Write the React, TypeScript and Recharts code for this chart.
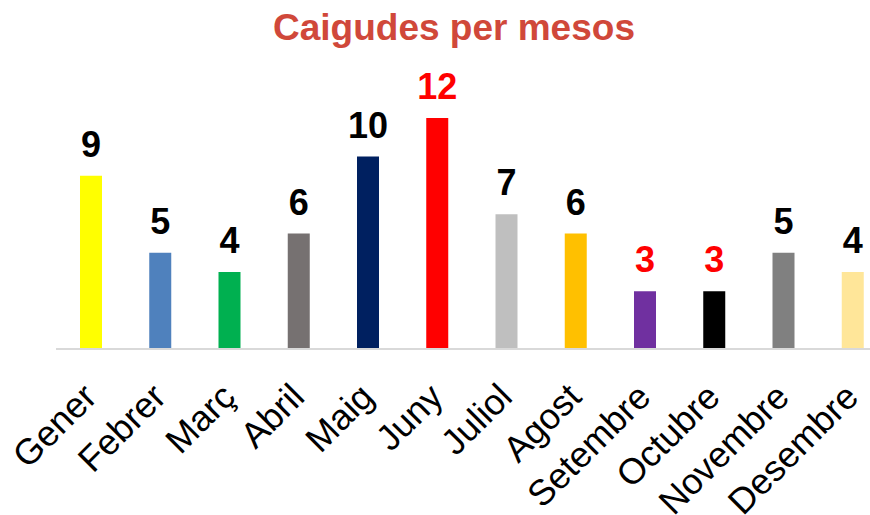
import { Bar, BarChart, Cell, LabelList, XAxis, YAxis } from "recharts";

const months: string[] = [
  "Gener",
  "Febrer",
  "Març",
  "Abril",
  "Maig",
  "Juny",
  "Juliol",
  "Agost",
  "Setembre",
  "Octubre",
  "Novembre",
  "Desembre",
];

const falls: number[] = [9, 5, 4, 6, 10, 12, 7, 6, 3, 3, 5, 4];

const barColors: string[] = [
  "#FFFF00",
  "#4F81BD",
  "#00B050",
  "#767171",
  "#002060",
  "#FF0000",
  "#BFBFBF",
  "#FFC000",
  "#7030A0",
  "#000000",
  "#808080",
  "#FFE699",
];

const labelColors: string[] = [
  "#000000",
  "#000000",
  "#000000",
  "#000000",
  "#000000",
  "#FF0000",
  "#000000",
  "#000000",
  "#FF0000",
  "#FF0000",
  "#000000",
  "#000000",
];

const font = "'Liberation Sans', Arial, sans-serif";

const data = months.map((name: string, i: number) => ({
  name,
  value: falls[i],
}));

function MonthTick(props: any) {
  const { x, y, payload } = props;
  return (
    <g transform={`translate(${x + 8},${y + 50})`}>
      <text
        x={0}
        y={0}
        transform="rotate(-45)"
        textAnchor="end"
        fontFamily={font}
        fontSize={36}
        fill="#000000"
      >
        {payload.value}
      </text>
    </g>
  );
}

function ValueLabel(props: any) {
  const { x, y, width, value, index } = props;
  return (
    <text
      x={x + width / 2}
      y={y - 19}
      textAnchor="middle"
      fontFamily={font}
      fontSize={36}
      fontWeight={700}
      fill={labelColors[index]}
    >
      {value}
    </text>
  );
}

export default function App() {
  return (
    <div
      style={{
        position: "absolute",
        left: 0,
        top: 0,
        width: 870,
        height: 515,
        overflow: "hidden",
        background: "#ffffff",
      }}
    >
      <div
        style={{
          position: "absolute",
          left: 0,
          top: 9,
          width: 908,
          textAlign: "center",
          fontFamily: font,
          fontSize: 37,
          lineHeight: "37px",
          fontWeight: 700,
          color: "#D0483A",
        }}
      >
        Caigudes per mesos
      </div>

      <div style={{ position: "absolute", left: 0, top: 0 }}>
        <BarChart
          width={900}
          height={515}
          data={data}
          margin={{ top: 118, right: 13, left: 56, bottom: 0 }}
        >
          <XAxis
            dataKey="name"
            interval={0}
            height={166}
            tickLine={false}
            tickSize={0}
            tickMargin={0}
            axisLine={{ stroke: "#D9D9D9", strokeWidth: 2 }}
            tick={<MonthTick />}
          />
          <YAxis hide domain={[0, 12]} />
          <Bar dataKey="value" barSize={22} isAnimationActive={false}>
            {data.map((item, i: number) => (
              <Cell key={item.name} fill={barColors[i]} />
            ))}
            <LabelList dataKey="value" content={<ValueLabel />} />
          </Bar>
        </BarChart>
      </div>
    </div>
  );
}
